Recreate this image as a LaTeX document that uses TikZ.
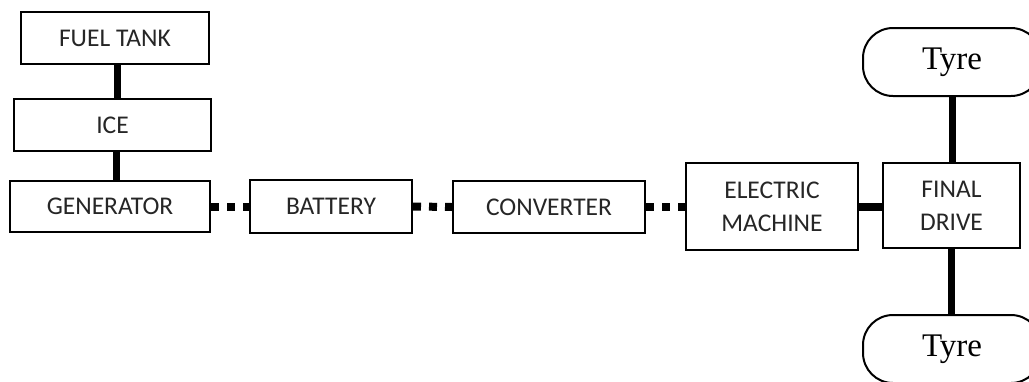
\documentclass[tikz,border=0pt]{standalone}
\usepackage{fontspec}
\setmainfont{Carlito}
\newfontfamily\tyrefont{Liberation Serif}
\begin{document}
\begin{tikzpicture}[x=1pt,y=-1pt,
  blk/.style={draw=black, line width=2pt, fill=white, inner sep=0pt, align=center,
    font=\fontsize{25.5}{33}\selectfont, text=black!85},
  tyrebox/.style={draw=black, line width=2pt, fill=white, rounded corners=30pt, inner sep=0pt,
    minimum width=178pt, minimum height=68pt, font=\tyrefont\fontsize{33}{36}\selectfont},
  solidlink/.style={line width=7pt, line cap=butt},
  dotlink/.style={line width=8pt, line cap=butt, dash pattern=on 8pt off 8pt}]
\clip (0,0) rectangle (1029,381);
\fill[white] (0,0) rectangle (1029,381);
\node[blk, minimum width=188pt, minimum height=52pt] (fuel) at (115,38) {FUEL TANK};
\node[blk, minimum width=197pt, minimum height=52pt] (ice) at (112.5,125) {ICE};
\node[blk, minimum width=200pt, minimum height=51pt] (gen) at (110,206.5) {GENERATOR};
\node[blk, minimum width=162pt, minimum height=53pt] (bat) at (331,206.5) {BATTERY};
\node[blk, minimum width=192pt, minimum height=52pt] (conv) at (549,207) {CONVERTER};
\node[blk, minimum width=172pt, minimum height=87pt] (em) at (772,206.5) {ELECTRIC\\MACHINE};
\node[blk, minimum width=137pt, minimum height=85pt] (fd) at (951.5,205.5) {FINAL\\DRIVE};
\node[tyrebox] (t1) at (952,62) {Tyre};
\node[tyrebox] (t2) at (952,349) {Tyre};
\coordinate (c1) at ([xshift=2pt]fuel.south);
\draw[solidlink] (c1) -- (c1 |- ice.north);
\coordinate (c2) at ([xshift=4pt]ice.south);
\draw[solidlink] (c2) -- (c2 |- gen.north);
\draw[dotlink] (gen.east) -- (bat.west);
\draw[dotlink] (bat.east) -- (conv.west);
\draw[dotlink] (conv.east) -- (conv.east -| em.west);
\draw[solidlink, line width=8pt] (em.east) -- (em.east -| fd.west);
\draw[solidlink] (t1.south) -- (t1.south |- fd.north);
\draw[solidlink] (fd.south) -- (fd.south |- t2.north);
\end{tikzpicture}
\end{document}
